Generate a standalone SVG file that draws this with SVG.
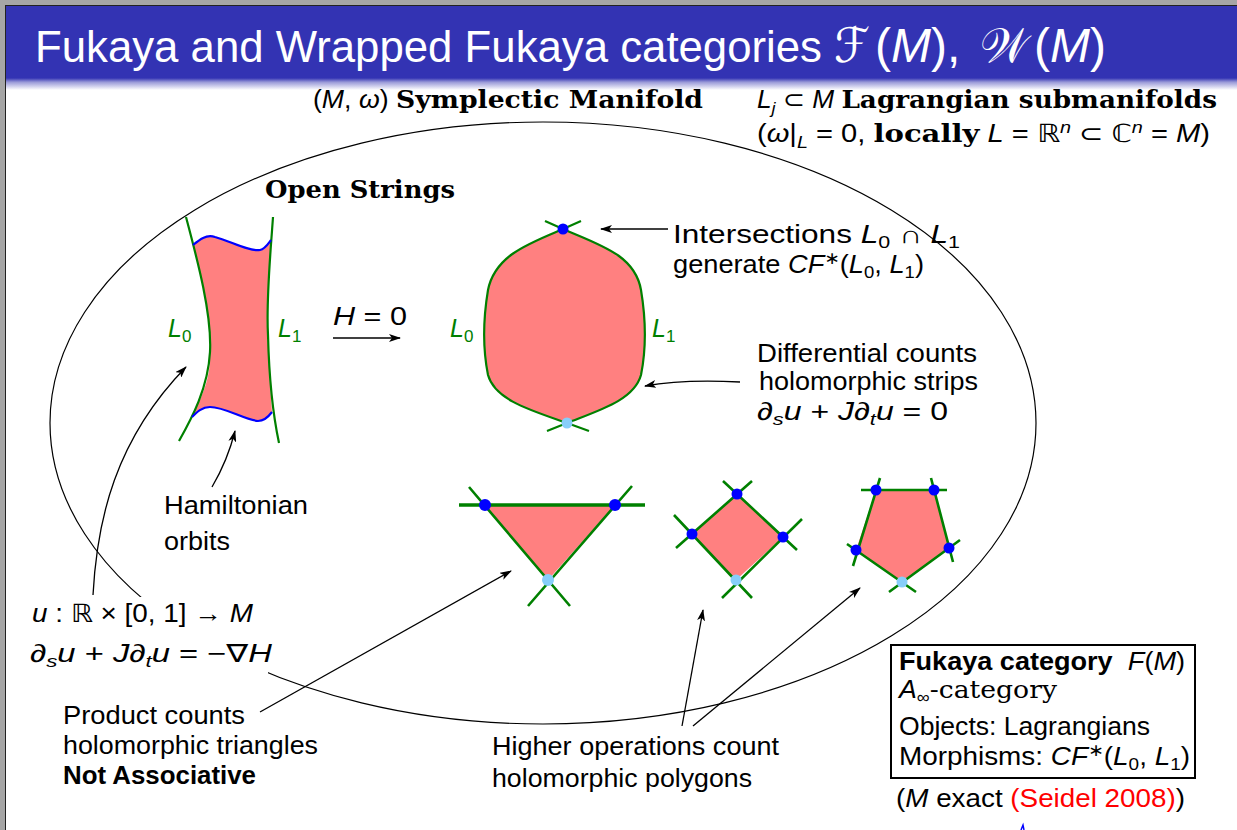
<svg xmlns="http://www.w3.org/2000/svg" width="1237" height="830" viewBox="0 0 1237 830">
<defs>
<linearGradient id="fade" x1="0" y1="0" x2="0" y2="1">
<stop offset="0" stop-color="#3333B3"/>
<stop offset="0.35" stop-color="#9a9ad8"/>
<stop offset="1" stop-color="#ffffff"/>
</linearGradient>
<marker id="ah" viewBox="0 0 12 8" refX="11" refY="4" markerWidth="12" markerHeight="8" markerUnits="userSpaceOnUse" orient="auto">
<path d="M0,0 L12,4 L0,8 L3,4 Z" fill="#000"/>
</marker>
<style>
.t{font-family:"Liberation Sans","DejaVu Sans",sans-serif;font-size:25px;fill:#000}
.ttl{font-family:"Liberation Sans","DejaVu Sans",sans-serif;font-size:48px;fill:#fff}
.scr{font-family:"DejaVu Sans",sans-serif}
.i{font-style:italic}
.bs{font-family:"DejaVu Serif","Liberation Serif",serif;font-weight:bold}
.rs{font-family:"DejaVu Serif","Liberation Serif",serif}
.b{font-weight:bold}
.g{fill:#008000}
.sub{font-size:17px}
.conn{fill:none;stroke:#000;stroke-width:1.3}
.gl{fill:none;stroke:#008000;stroke-width:2.2}
.gp{fill:none;stroke:#008000;stroke-width:2.6}
.bl{fill:none;stroke:#0000FF;stroke-width:2.2}
.pk{fill:#FF8080}
.dd{fill:#0000FF}
.ld{fill:#87CEFA}
</style>
</defs>
<rect width="1237" height="830" fill="#fff"/>
<!-- header -->
<rect x="0" y="0" width="1237" height="5" fill="#A6A6A6"/>
<rect x="0" y="5" width="1237" height="1" fill="#222"/>
<rect x="0" y="6" width="1237" height="72" fill="#3333B3"/>
<rect x="0" y="78" width="1237" height="12" fill="url(#fade)"/>
<rect x="0" y="0" width="5" height="830" fill="#A6A6A6"/>
<rect x="5" y="5" width="1" height="825" fill="#222"/>
<g id="title">
<text class="ttl" x="35" y="62" font-size="44" style="font-size:44px" textLength="787" lengthAdjust="spacingAndGlyphs">Fukaya and Wrapped Fukaya categories</text>
<text class="ttl scr" x="834" y="62" textLength="36" lengthAdjust="spacingAndGlyphs">ℱ</text>
<text class="ttl" x="875" y="62">(<tspan class="i">M</tspan>),</text>
<text class="ttl scr" x="980" y="62" textLength="48" lengthAdjust="spacingAndGlyphs">𝒲</text>
<text class="ttl" x="1034" y="62">(<tspan class="i">M</tspan>)</text>
</g>

<!-- ellipse (symplectic manifold) -->
<g id="manifold">
<ellipse cx="543" cy="423" rx="493" ry="301" fill="none" stroke="#000" stroke-width="1.2"/>
</g>

<g id="labels-top">
<text class="t" x="313" y="108" textLength="390" lengthAdjust="spacingAndGlyphs">(<tspan class="i">M</tspan>, <tspan class="i">ω</tspan>) <tspan class="bs">Symplectic Manifold</tspan></text>
<text class="t" x="757" y="108" textLength="460" lengthAdjust="spacingAndGlyphs"><tspan class="i">L</tspan><tspan class="sub i" dy="6">j</tspan><tspan dy="-6"> ⊂ </tspan><tspan class="i">M</tspan> <tspan class="bs">Lagrangian submanifolds</tspan></text>
<text class="t" x="757" y="142" textLength="453" lengthAdjust="spacingAndGlyphs">(<tspan class="i">ω</tspan>|<tspan class="sub i" dy="6">L</tspan><tspan dy="-6"> = 0, </tspan><tspan class="bs">locally</tspan> <tspan class="i">L</tspan> = ℝ<tspan class="sub i" dy="-9">n</tspan><tspan dy="9"> ⊂ ℂ</tspan><tspan class="sub i" dy="-9">n</tspan><tspan dy="9"> = </tspan><tspan class="i">M</tspan>)</text>
<text class="t bs" x="265" y="198" textLength="190" lengthAdjust="spacingAndGlyphs">Open Strings</text>
</g>

<!-- open string strip -->
<g id="strip">
<path class="pk" d="M193,245 C199,240 206,234 215,237 C230,241 250,252 260,250 C265,249 268,244 271,240 C269,290 265,320 268,345 C269,375 271,395 272,412 C269,416 265,421 258,421 C245,420 225,407 210,407 C202,407 197,412 192,417 C201,398 211,380 210,352 C211,320 203,280 193,245 Z"/>
<path class="gl" d="M186,217 C198,262 212,315 210,352 C208,388 192,418 179,441"/>
<path class="gl" d="M273,217 C270,260 266,300 268,335 C269,375 272,410 279,443"/>
<path class="bl" d="M193,245 C199,240 206,234 215,237 C230,241 250,252 260,250 C265,249 268,244 271,240"/>
<path class="bl" d="M192,417 C197,412 202,407 210,407 C225,407 245,420 258,421 C265,421 269,416 272,412"/>
<text class="t g" x="168" y="337"><tspan class="i">L</tspan><tspan class="sub" dy="5">0</tspan></text>
<text class="t g" x="278" y="337"><tspan class="i">L</tspan><tspan class="sub" dy="5">1</tspan></text>
</g>

<g id="h0">
<text class="t" x="333" y="325" textLength="74" lengthAdjust="spacingAndGlyphs"><tspan class="i">H</tspan> = 0</text>
</g>

<!-- bigon -->
<g id="bigon">
<path class="pk" d="M563,229 C530,243 495,255 488,290 C483,320 483,350 488,375 C495,400 530,410 567,423 C600,410 634,400 641,375 C646,350 646,320 641,290 C635,255 600,245 563,229 Z"/>
<path class="gl" d="M581,221 L563,229 C530,243 495,255 488,290 C483,320 483,350 488,375 C495,400 530,410 567,423 L589,431"/>
<path class="gl" d="M545,221 L563,229 C600,245 635,255 641,290 C646,320 646,350 641,375 C634,400 600,410 567,423 L547,431"/>
<circle class="dd" cx="563" cy="229" r="5.5"/>
<circle class="ld" cx="567" cy="423" r="5.5"/>
<text class="t g" x="450" y="337"><tspan class="i">L</tspan><tspan class="sub" dy="5">0</tspan></text>
<text class="t g" x="652" y="337"><tspan class="i">L</tspan><tspan class="sub" dy="5">1</tspan></text>
</g>

<g id="intersections-label">
<text class="t" x="673" y="243" textLength="287" lengthAdjust="spacingAndGlyphs">Intersections <tspan class="i">L</tspan><tspan class="sub" dy="5">0</tspan><tspan dy="-5"> ∩ </tspan><tspan class="i">L</tspan><tspan class="sub" dy="5">1</tspan></text>
<text class="t" x="673" y="273" textLength="251" lengthAdjust="spacingAndGlyphs">generate <tspan class="i">CF</tspan><tspan class="sub" dy="-9">∗</tspan><tspan dy="9">(</tspan><tspan class="i">L</tspan><tspan class="sub" dy="5">0</tspan><tspan dy="-5">, </tspan><tspan class="i">L</tspan><tspan class="sub" dy="5">1</tspan><tspan dy="-5">)</tspan></text>
</g>

<g id="differential-label">
<text class="t" x="757" y="362" textLength="220" lengthAdjust="spacingAndGlyphs">Differential counts</text>
<text class="t" x="759" y="390" textLength="219" lengthAdjust="spacingAndGlyphs">holomorphic strips</text>
<text class="t" x="757" y="420" textLength="191" lengthAdjust="spacingAndGlyphs">∂<tspan class="sub i" dy="5">s</tspan><tspan class="i" dy="-5">u</tspan> + <tspan class="i">J</tspan>∂<tspan class="sub i" dy="5">t</tspan><tspan class="i" dy="-5">u</tspan> = 0</text>
</g>

<g id="hamiltonian-label">
<text class="t" x="164" y="514" textLength="144" lengthAdjust="spacingAndGlyphs">Hamiltonian</text>
<text class="t" x="164" y="550" textLength="66" lengthAdjust="spacingAndGlyphs">orbits</text>
</g>

<!-- triangle -->
<g id="triangle">
<path class="pk" d="M485,505 L615,505 L548,580 Z"/>
<path class="gp" d="M469,487 L570,606 M632,486 L528,606"/>
<path d="M459,505 L645,505" stroke="#008000" stroke-width="3.6"/>
<circle class="dd" cx="485" cy="505" r="6"/>
<circle class="dd" cx="615" cy="505" r="6"/>
<circle class="ld" cx="548" cy="580" r="6"/>
</g>

<!-- square -->
<g id="square">
<path class="pk" d="M737,494 L783,537 L736,580 L692,534 Z"/>
<path class="gp" d="M752,481 L676,548 M723,481 L797,550 M802,519 L722,598 M674,515 L752,598"/>
<circle class="dd" cx="737" cy="494" r="5.5"/>
<circle class="dd" cx="692" cy="534" r="5.5"/>
<circle class="dd" cx="783" cy="537" r="5.5"/>
<circle class="ld" cx="736" cy="580" r="5.5"/>
</g>

<!-- pentagon -->
<g id="pentagon">
<path class="pk" d="M876,490 L934,490 L949,548 L902,582 L856,550 Z"/>
<path class="gp" d="M861,490 L947,490 M931,478 L953,562 M960,540 L889,592 M916,592 L847,544 M853,566 L880,478"/>
<circle class="dd" cx="876" cy="490" r="5.5"/>
<circle class="dd" cx="934" cy="490" r="5.5"/>
<circle class="dd" cx="949" cy="548" r="5.5"/>
<circle class="dd" cx="856" cy="550" r="5.5"/>
<circle class="ld" cx="902" cy="582" r="5.5"/>
</g>

<!-- u equation block (white background hides the ellipse) -->
<g id="u-label">
<rect x="26" y="597" width="242" height="79" fill="#fff"/>
<text class="t" x="32" y="622" textLength="221" lengthAdjust="spacingAndGlyphs"><tspan class="i">u</tspan> : ℝ × [0, 1] → <tspan class="i">M</tspan></text>
<text class="t" x="30" y="662" textLength="242" lengthAdjust="spacingAndGlyphs">∂<tspan class="sub i" dy="5">s</tspan><tspan class="i" dy="-5">u</tspan> + <tspan class="i">J</tspan>∂<tspan class="sub i" dy="5">t</tspan><tspan class="i" dy="-5">u</tspan> = −∇<tspan class="i">H</tspan></text>
</g>

<g id="product-label">
<text class="t" x="63" y="724" textLength="182" lengthAdjust="spacingAndGlyphs">Product counts</text>
<text class="t" x="63" y="754" textLength="255" lengthAdjust="spacingAndGlyphs">holomorphic triangles</text>
<text class="t b" x="63" y="784" textLength="193" lengthAdjust="spacingAndGlyphs">Not Associative</text>
</g>

<g id="higher-label">
<text class="t" x="492" y="755" textLength="287" lengthAdjust="spacingAndGlyphs">Higher operations count</text>
<text class="t" x="492" y="787" textLength="260" lengthAdjust="spacingAndGlyphs">holomorphic polygons</text>
</g>

<g id="fukaya-box">
<rect x="891" y="645" width="304" height="133" fill="#fff" stroke="#000" stroke-width="2"/>
<text class="t" x="899" y="670" textLength="286" lengthAdjust="spacingAndGlyphs"><tspan class="b">Fukaya category</tspan><tspan class="i" dx="14">F</tspan>(<tspan class="i">M</tspan>)</text>
<text class="t" x="899" y="698" textLength="158" lengthAdjust="spacingAndGlyphs"><tspan class="i">A</tspan><tspan class="sub" dy="5">∞</tspan><tspan class="rs" dy="-5">-category</tspan></text>
<text class="t" x="899" y="735" textLength="251" lengthAdjust="spacingAndGlyphs">Objects: Lagrangians</text>
<text class="t" x="899" y="765" textLength="291" lengthAdjust="spacingAndGlyphs">Morphisms: <tspan class="i">CF</tspan><tspan class="sub" dy="-9">∗</tspan><tspan dy="9">(</tspan><tspan class="i">L</tspan><tspan class="sub" dy="5">0</tspan><tspan dy="-5">, </tspan><tspan class="i">L</tspan><tspan class="sub" dy="5">1</tspan><tspan dy="-5">)</tspan></text>
</g>
<g id="seidel-note">
<text class="t" x="896" y="807" textLength="289" lengthAdjust="spacingAndGlyphs">(<tspan class="i">M</tspan> exact <tspan fill="#FF0000">(Seidel 2008)</tspan>)</text>
</g>

<!-- connectors -->
<g id="connectors">
<path class="conn" d="M333,338 L400,338" marker-end="url(#ah)"/>
<path class="conn" d="M668,229 L601,229" marker-end="url(#ah)"/>
<path class="conn" d="M740,382 C700,380 672,381 645,386" marker-end="url(#ah)"/>
<path class="conn" d="M212,487 C222,470 229,455 235,431" marker-end="url(#ah)"/>
<path class="conn" d="M93,595 C97,520 115,440 186,367" marker-end="url(#ah)"/>
<path class="conn" d="M260,712 L511,571" marker-end="url(#ah)"/>
<path class="conn" d="M682,726 L703,610" marker-end="url(#ah)"/>
<path class="conn" d="M693,726 L860,588" marker-end="url(#ah)"/>
</g>
<path d="M1021,830 L1023,825 L1024,830" stroke="#0000FF" stroke-width="1.5" fill="none"/>
</svg>
